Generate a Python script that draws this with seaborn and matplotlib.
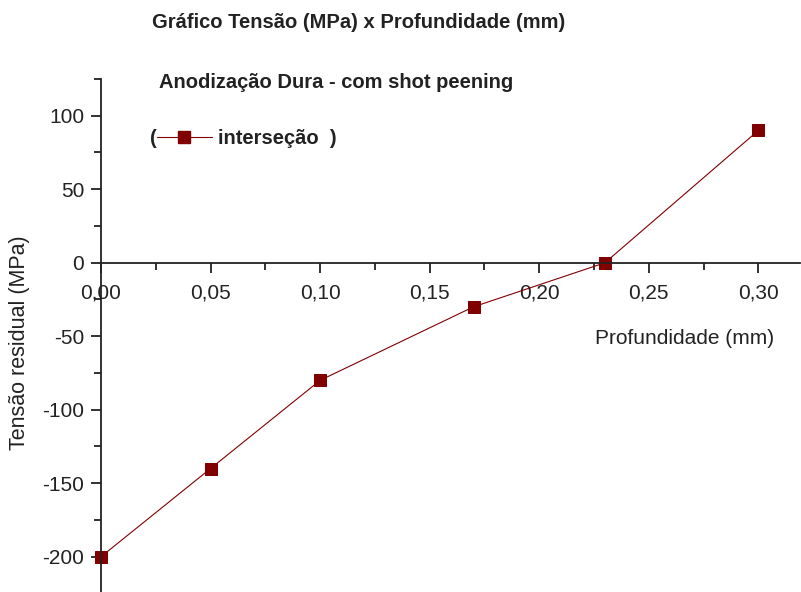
import matplotlib
matplotlib.use("Agg")
import matplotlib.pyplot as plt
import matplotlib.ticker as mticker
from matplotlib.lines import Line2D
import seaborn as sns
import pandas as pd

profundidade = [0.00, 0.05, 0.10, 0.17, 0.23, 0.30]
tensao = [-200, -140, -80, -30, 0, 90]
xticks = [0.00, 0.05, 0.10, 0.15, 0.20, 0.25, 0.30]
yticks = [-200, -150, -100, -50, 0, 50, 100]

sns.set_style("ticks")
plt.rcParams['font.family'] = ['Liberation Sans', 'DejaVu Sans']

color = "#800000"
df = pd.DataFrame({"x": profundidade, "y": tensao})

W, H = 801, 592
fig = plt.figure(figsize=(W / 100, H / 100), dpi=100)
ax = fig.add_axes([101 / W, 0.0, (800 - 101) / W, (592 - 79) / H])

sns.lineplot(data=df, x="x", y="y", ax=ax, color=color, lw=0.8,
             marker="s", markersize=8.5, markeredgecolor=color,
             markerfacecolor=color, clip_on=False)

ax.set_xlim(0, 0.319)
ax.set_ylim(-224, 125)
ax.spines['left'].set_position(('data', 0))
ax.spines['bottom'].set_position(('data', 0))
ax.spines['top'].set_visible(False)
ax.spines['right'].set_visible(False)
for s in ['left', 'bottom']:
    ax.spines[s].set_linewidth(1.3)
    ax.spines[s].set_color('#222222')

ax.set_xticks(xticks)
ax.set_xticklabels([f"{v:.2f}".replace('.', ',') for v in xticks])
ax.set_yticks(yticks)
ax.set_yticklabels([str(v) for v in yticks])
ax.xaxis.set_minor_locator(mticker.MultipleLocator(0.025))
ax.yaxis.set_minor_locator(mticker.MultipleLocator(25))
ax.tick_params(which='major', direction='out', length=7, width=1.3,
               labelsize=15, colors='#222222')
ax.tick_params(axis='x', which='major', pad=8)
ax.tick_params(axis='y', which='major', pad=5)
ax.tick_params(which='minor', direction='out', length=5, width=1.3,
               colors='#222222')
ax.set_xlabel("")
ax.set_ylabel("")

fig.text(20 / W, 1 - 343 / H, "Tensão residual (MPa)", rotation=90,
         ha='center', va='center', fontsize=15.5, color='#222222')
fig.text(685 / W, 1 - 338 / H, "Profundidade (mm)", ha='center',
         va='center', fontsize=15, color='#222222')
fig.text(359 / W, 1 - 22 / H, "Gráfico Tensão (MPa) x Profundidade (mm)",
         ha='center', va='center', fontsize=14.5, fontweight='bold',
         color='#222222')
fig.text(336 / W, 1 - 82 / H, "Anodização Dura - com shot peening",
         ha='center', va='center', fontsize=14.5, fontweight='bold',
         color='#222222')
fig.text(150 / W, 1 - 138 / H, "(", ha='left', va='center', fontsize=14.5,
         fontweight='bold', color='#222222')
fig.add_artist(Line2D([157 / W, 212 / W], [1 - 137 / H, 1 - 137 / H],
                      transform=fig.transFigure, color=color, lw=0.8))
fig.add_artist(Line2D([184 / W], [1 - 137 / H], transform=fig.transFigure,
                      color=color, marker='s', markersize=8, lw=0))
fig.text(218 / W, 1 - 138 / H, "interseção  )", ha='left', va='center',
         fontsize=14.5, fontweight='bold', color='#222222')

fig.savefig("out.png", dpi=100)
